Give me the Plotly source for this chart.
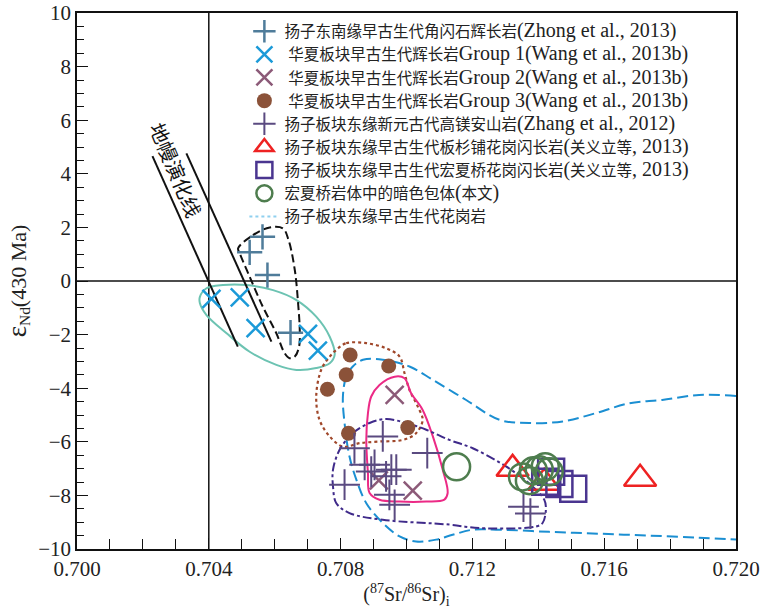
import plotly.graph_objects as go

# ---------------- data ----------------
# 1 扬子东南缘早古生代角闪石辉长岩 (Zhong et al., 2013)
s1_x = [0.70563, 0.70524, 0.70578, 0.70648]
s1_y = [1.65, 1.07, 0.22, -1.93]
# 2 华夏板块早古生代辉长岩 Group 1
s2_x = [0.70408, 0.70494, 0.70542, 0.70701, 0.70731]
s2_y = [-0.67, -0.61, -1.76, -1.97, -2.60]
# 3 Group 2
s3_x = [0.70964, 0.71019, 0.70916]
s3_y = [-4.25, -7.82, -7.44]
# 4 Group 3
s4_x = [0.70829, 0.70946, 0.70817, 0.70760, 0.71004, 0.70824]
s4_y = [-2.76, -3.17, -3.50, -4.04, -5.47, -5.68]
# 5 扬子板块东缘新元古代高镁安山岩 (Zhang et al., 2012)
s5_x = [0.70928, 0.70842, 0.71063, 0.70873, 0.70903, 0.70893, 0.70954,
        0.70969, 0.70938, 0.70812, 0.70948, 0.70964, 0.71355, 0.71376]
s5_y = [-5.80, -6.24, -6.42, -6.86, -6.86, -7.11, -7.04,
        -7.04, -7.29, -7.60, -7.98, -8.35, -8.42, -8.68]
# 6 板杉铺花岗闪长岩
s6_x = [0.71322, 0.71418, 0.71709]
s6_y = [-7.01, -7.53, -7.38]
# 7 宏夏桥花岗闪长岩
s7_x = [0.71439, 0.71464, 0.71506, 0.71421]
s7_y = [-7.12, -7.57, -7.75, -7.49]
# 8 宏夏桥岩体中的暗色包体(本文)
s8_x = [0.71152, 0.71352, 0.71373, 0.71385, 0.71403, 0.71421, 0.71433]
s8_y = [-6.93, -7.31, -7.45, -7.08, -7.04, -6.93, -7.12]

# field outlines
f_g1_x = [0.70373, 0.70393, 0.70443, 0.70514, 0.70595, 0.70666, 0.70726, 0.70767, 0.70782,
          0.70767, 0.70726, 0.70666, 0.70605, 0.70524, 0.70454, 0.70393, 0.70373]
f_g1_y = [-0.59, -0.27, -0.15, -0.15, -0.34, -0.71, -1.33, -2.08, -2.76,
          -3.07, -3.25, -3.32, -3.13, -2.64, -1.95, -1.27, -0.83]
f_zh_x = [0.70489, 0.70534, 0.70585, 0.70625, 0.70642, 0.70661, 0.70671, 0.70676, 0.70674,
          0.70661, 0.70645, 0.70630, 0.70605, 0.70564, 0.70524, 0.70494]
f_zh_y = [1.22, 1.71, 2.00, 1.96, 1.53, 0.41, -0.83, -1.83, -2.45,
          -2.82, -2.88, -2.69, -1.95, -0.96, 0.16, 1.03]
f_g3_x = [0.70787, 0.70817, 0.70878, 0.70938, 0.70979, 0.70994, 0.71009, 0.71034, 0.71049,
          0.71029, 0.70989, 0.70918, 0.70858, 0.70807, 0.70767, 0.70736, 0.70726, 0.70741, 0.70767]
f_g3_y = [-2.57, -2.32, -2.32, -2.51, -2.82, -3.44, -4.06, -4.68, -5.18,
          -5.68, -5.93, -5.99, -6.05, -6.18, -5.80, -5.18, -4.31, -3.32, -2.82]
f_g2_x = [0.70893, 0.70918, 0.70964, 0.70994, 0.71014, 0.71049, 0.71080, 0.71110, 0.71125,
          0.71115, 0.71060, 0.70979, 0.70918, 0.70888, 0.70883, 0.70878, 0.70883]
f_g2_y = [-4.31, -3.88, -3.57, -3.63, -4.19, -4.81, -5.80, -7.04, -7.91,
          -8.16, -8.23, -8.23, -8.16, -7.91, -7.17, -5.93, -4.93]
f_an_x = [0.70797, 0.70837, 0.70888, 0.70938, 0.70999, 0.71060, 0.71130, 0.71201, 0.71302,
          0.71383, 0.71418, 0.71423, 0.71413, 0.71393, 0.71221, 0.71130, 0.70928, 0.70827,
          0.70787, 0.70777, 0.70777]
f_an_y = [-6.30, -5.68, -5.30, -5.15, -5.30, -5.55, -5.93, -6.24, -6.92,
          -7.67, -8.16, -8.53, -9.03, -9.16, -9.22, -9.09, -8.91, -8.66,
          -8.29, -7.67, -7.04]
f_gr_x = [0.72000, 0.71888, 0.71776, 0.71676, 0.71575, 0.71474, 0.71373, 0.71282, 0.71181,
          0.71080, 0.71009, 0.70928, 0.70868, 0.70837, 0.70817, 0.70807, 0.70812, 0.70827,
          0.70848, 0.70878, 0.70928, 0.70979, 0.71029, 0.71090, 0.71140, 0.71201, 0.71282,
          0.71433, 0.71585, 0.71736, 0.71888, 0.72000]
f_gr_y = [-4.29, -4.25, -4.44, -4.56, -4.93, -5.24, -5.30, -5.18, -4.44,
          -3.69, -3.19, -2.94, -2.94, -3.19, -3.57, -4.31, -5.30, -6.55,
          -7.42, -8.29, -9.03, -9.53, -9.72, -9.65, -9.47, -9.28, -9.28,
          -9.36, -9.43, -9.50, -9.58, -9.65]

# mantle array lines
mantle_a_x = [0.70229, 0.70488]
mantle_a_y = [4.66, -2.45]
mantle_b_x = [0.70332, 0.70590]
mantle_b_y = [4.76, -2.26]
mantle_label_x, mantle_label_y = 0.70300, 4.15

ref_x = 0.704
ref_y = 0.0

x_ticks = [0.700, 0.704, 0.708, 0.712, 0.716, 0.720]
y_ticks = [-10, -8, -6, -4, -2, 0, 2, 4, 6, 8, 10]

# legend names: sequence of (text, is_latin) parts
LAT = '<span style="font-size:20px">'
def mk(*parts):
    return "".join((LAT + t + "</span>") if lat else t for t, lat in parts)

names = [
    mk(("扬子东南缘早古生代角闪石辉长岩", False), ("(Zhong et al., 2013)", True)),
    mk((" 华夏板块早古生代辉长岩", False), ("Group 1(Wang et al., 2013b)", True)),
    mk((" 华夏板块早古生代辉长岩", False), ("Group 2(Wang et al., 2013b)", True)),
    mk((" 华夏板块早古生代辉长岩", False), ("Group 3(Wang et al., 2013b)", True)),
    mk(("扬子板块东缘新元古代高镁安山岩", False), ("(Zhang et al., 2012)", True)),
    mk(("扬子板块东缘早古生代板杉铺花岗闪长岩", False), ("(", True), ("关义立等", False), (", 2013)", True)),
    mk(("扬子板块东缘早古生代宏夏桥花岗闪长岩", False), ("(", True), ("关义立等", False), (", 2013)", True)),
    mk(("宏夏桥岩体中的暗色包体", False), ("(", True), ("本文", False), (")", True)),
    mk(("扬子板块东缘早古生代花岗岩", False)),
]

SERIF = "Liberation Serif, Times New Roman, Noto Sans CJK SC"

fig = go.Figure()

def field(x, y, color, dash, width=2, closed=True, shape="spline"):
    xs = list(x) + ([x[0]] if closed else [])
    ys = list(y) + ([y[0]] if closed else [])
    fig.add_trace(go.Scatter(x=xs, y=ys, mode="lines", showlegend=False, hoverinfo="skip",
                             line=dict(color=color, dash=dash, width=width, shape=shape,
                                       smoothing=1.0)))

field(f_gr_x, f_gr_y, "#1b8fd2", "11px,5px", 2, closed=False)
field(f_g1_x, f_g1_y, "#6cc3b2", "solid", 2)
field(f_zh_x, f_zh_y, "#111111", "8px,4px", 2)
field(f_g3_x, f_g3_y, "#a0472a", "dot", 2.2)
field(f_g2_x, f_g2_y, "#ec2a86", "solid", 2)
field(f_an_x, f_an_y, "#3f2a8a", "dashdot", 2)

for lx, ly in [(mantle_a_x, mantle_a_y), (mantle_b_x, mantle_b_y)]:
    fig.add_trace(go.Scatter(x=lx, y=ly, mode="lines", showlegend=False, hoverinfo="skip",
                             line=dict(color="#111111", width=2)))

def pts(x, y, name, symbol, color, size, lw=2.5, filled=False):
    fig.add_trace(go.Scatter(
        x=x, y=y, mode="markers", name=name,
        marker=dict(symbol=symbol, size=size, color=color,
                    line=dict(color=color, width=lw if not filled else 0))))

pts(s1_x, s1_y, names[0], "cross-thin-open", "#4f7c9a", 18)
pts(s2_x, s2_y, names[1], "x-thin-open", "#1b9ad8", 18)
pts(s3_x, s3_y, names[2], "x-thin-open", "#8c5a78", 18)
pts(s4_x, s4_y, names[3], "circle", "#8b5239", 15, filled=True)
pts(s5_x, s5_y, names[4], "cross-thin-open", "#5a4a80", 22, lw=2)
pts(s6_x, s6_y, names[5], "triangle-up-open", "#ee2222", 28)
pts(s7_x, s7_y, names[6], "square-open", "#4a3590", 26)
pts(s8_x, s8_y, names[7], "circle-open", "#4e7d4e", 27)
fig.add_trace(go.Scatter(x=[None], y=[None], mode="lines", name=names[8],
                         line=dict(color="#8fd0ef", dash="dot", width=2)))

fig.add_vline(x=ref_x, line=dict(color="#111111", width=1.5), layer="below")
fig.add_hline(y=ref_y, line=dict(color="#111111", width=1.5), layer="below")

fig.add_annotation(x=mantle_label_x, y=mantle_label_y, text="地幔演化线", showarrow=False,
                   textangle=67, font=dict(family="Noto Sans CJK SC", size=20, color="#111"))

axis_common = dict(showline=True, linecolor="#111111", linewidth=1.5, mirror=True,
                   ticks="inside", ticklen=11, tickwidth=1.3, tickcolor="#111111",
                   showgrid=False, zeroline=False, automargin=False,
                   tickfont=dict(family=SERIF, size=21, color="#222222"))

fig.update_layout(
    width=763, height=610,
    margin=dict(l=77, r=27, t=13, b=61),
    paper_bgcolor="white", plot_bgcolor="white",
    xaxis=dict(range=[0.700, 0.720], tickvals=x_ticks, tickformat=".3f",
               minor=dict(dtick=0.001, ticks="inside", ticklen=10, tickcolor="#111111", tickwidth=1.3),
               title=dict(text="(<sup>87</sup>Sr/<sup>86</sup>Sr)<sub>i</sub>",
                          font=dict(family=SERIF, size=20, color="#222"), standoff=0),
               **axis_common),
    yaxis=dict(range=[-10, 10], tickvals=y_ticks,
               minor=dict(dtick=0.5, ticks="inside", ticklen=7, tickcolor="#111111", tickwidth=1.3),
               title=dict(text='<span style="font-size:27px">ε</span><sub>Nd</sub>(430 Ma)',
                          font=dict(family=SERIF, size=22, color="#222"), standoff=6),
               **axis_common),
    legend=dict(x=0.254, y=0.997, xanchor="left", yanchor="top",
                bgcolor="rgba(0,0,0,0)", borderwidth=0,
                font=dict(family=SERIF, size=15.5, color="#222"),
                itemwidth=30),
    showlegend=True,
)

fig.write_html("out.html")
